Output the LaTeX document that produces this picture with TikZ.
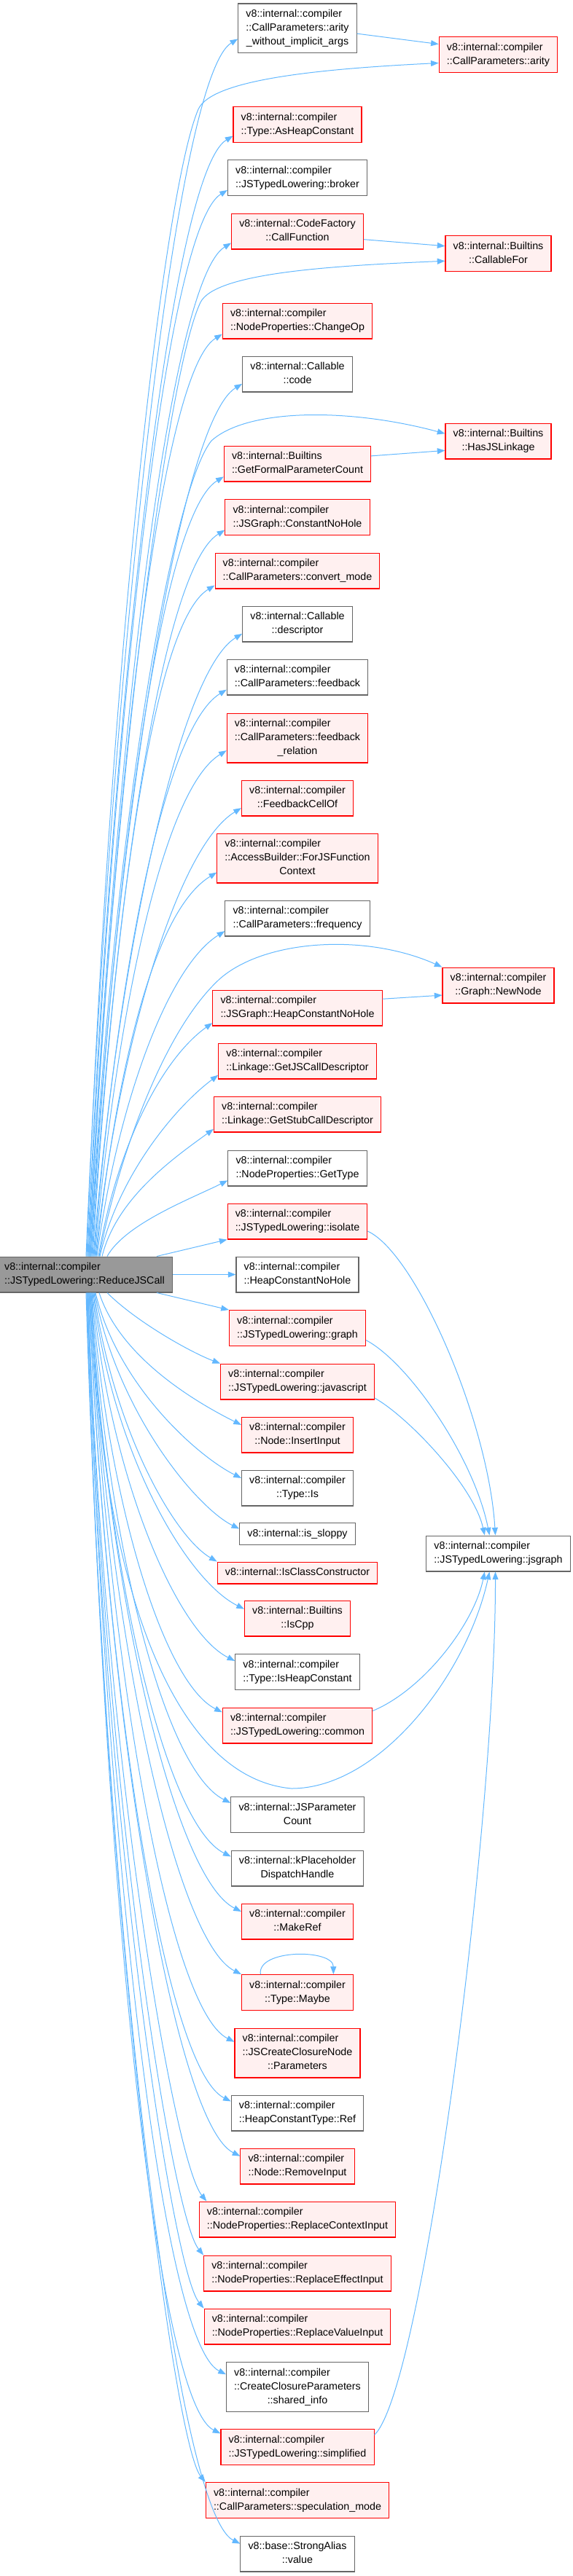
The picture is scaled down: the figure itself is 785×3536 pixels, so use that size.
\documentclass[tikz,border=0pt]{standalone}
\usepackage{fontspec}
\setmainfont{Liberation Sans}
\usetikzlibrary{arrows.meta}
\definecolor{edgeblue}{HTML}{63B8FF}
\definecolor{boxred}{HTML}{FF0000}
\definecolor{boxpink}{HTML}{FFF0F0}
\definecolor{boxgrey}{HTML}{666666}
\definecolor{maingrey}{HTML}{999999}
\newcommand{\done}[1]{\begin{tabular}{@{}c@{}}#1\end{tabular}}
\newcommand{\dtwo}[2]{\begin{tabular}{@{}l@{}}#1\\\multicolumn{1}{@{}c@{}}{#2}\end{tabular}}
\newcommand{\dthree}[3]{\begin{tabular}{@{}l@{}}#1\\#2\\\multicolumn{1}{@{}c@{}}{#3}\end{tabular}}
\tikzset{
  fn/.style={draw=boxgrey,fill=white,line width=0.8pt,inner xsep=8pt,inner ysep=4.1pt,
    font=\fontsize{10.7pt}{14.25pt}\selectfont},
  fnred/.style={fn,draw=boxred,fill=boxpink},
  fnmain/.style={fn,fill=maingrey},
  call/.style={draw=edgeblue,line width=0.75pt,-{Triangle[length=8pt,width=6pt]}}
}
\begin{document}
\begin{tikzpicture}[x=0.75pt,y=-0.75pt]
\useasboundingbox (0,0) rectangle (785,3536);
\node[fnmain] (reduce) at (116,1749.5) {\dtwo{v8::internal::compiler}{::JSTypedLowering::ReduceJSCall}};
\node[fn] (arityWIA) at (408,39) {\dthree{v8::internal::compiler}{::CallParameters::arity}{\_without\_implicit\_args}};
\node[fnred] (arity) at (683.5,75) {\dtwo{v8::internal::compiler}{::CallParameters::arity}};
\node[fnred] (asHeapConst) at (408,171) {\dtwo{v8::internal::compiler}{::Type::AsHeapConstant}};
\node[fn] (broker) at (408,244) {\dtwo{v8::internal::compiler}{::JSTypedLowering::broker}};
\node[fnred] (callFunction) at (408,317.5) {\dtwo{v8::internal::CodeFactory}{::CallFunction}};
\node[fnred] (callableFor) at (683.5,348) {\dtwo{v8::internal::Builtins}{::CallableFor}};
\node[fnred] (changeOp) at (408,440.5) {\dtwo{v8::internal::compiler}{::NodeProperties::ChangeOp}};
\node[fn] (code) at (408,513.5) {\dtwo{v8::internal::Callable}{::code}};
\node[fnred] (hasJSLinkage) at (683.5,605.5) {\dtwo{v8::internal::Builtins}{::HasJSLinkage}};
\node[fnred] (getFormal) at (408,636.5) {\dtwo{v8::internal::Builtins}{::GetFormalParameterCount}};
\node[fnred] (constNoHole) at (408,710) {\dtwo{v8::internal::compiler}{::JSGraph::ConstantNoHole}};
\node[fnred] (convertMode) at (408,783.5) {\dtwo{v8::internal::compiler}{::CallParameters::convert\_mode}};
\node[fn] (descriptor) at (408,856.5) {\dtwo{v8::internal::Callable}{::descriptor}};
\node[fn] (feedback) at (408,929.5) {\dtwo{v8::internal::compiler}{::CallParameters::feedback}};
\node[fnred] (feedbackRel) at (408,1013) {\dthree{v8::internal::compiler}{::CallParameters::feedback}{\_relation}};
\node[fnred] (feedbackCell) at (408,1095.5) {\dtwo{v8::internal::compiler}{::FeedbackCellOf}};
\node[fnred] (forJSFunc) at (408,1178) {\dthree{v8::internal::compiler}{::AccessBuilder::ForJSFunction}{Context}};
\node[fn] (frequency) at (408,1260.5) {\dtwo{v8::internal::compiler}{::CallParameters::frequency}};
\node[fnred] (newNode) at (683.5,1352.5) {\dtwo{v8::internal::compiler}{::Graph::NewNode}};
\node[fnred] (heapConstNoHole) at (408,1383.5) {\dtwo{v8::internal::compiler}{::JSGraph::HeapConstantNoHole}};
\node[fnred] (getJSCallDesc) at (408,1456.5) {\dtwo{v8::internal::compiler}{::Linkage::GetJSCallDescriptor}};
\node[fnred] (getStubCallDesc) at (408,1529.5) {\dtwo{v8::internal::compiler}{::Linkage::GetStubCallDescriptor}};
\node[fn] (getType) at (408,1603.5) {\dtwo{v8::internal::compiler}{::NodeProperties::GetType}};
\node[fnred] (isolate) at (408,1676.5) {\dtwo{v8::internal::compiler}{::JSTypedLowering::isolate}};
\node[fn] (hcNoHole) at (408,1749.5) {\dtwo{v8::internal::compiler}{::HeapConstantNoHole}};
\node[fnred] (graph) at (408,1823) {\dtwo{v8::internal::compiler}{::JSTypedLowering::graph}};
\node[fnred] (javascript) at (408,1896.5) {\dtwo{v8::internal::compiler}{::JSTypedLowering::javascript}};
\node[fnred] (insertInput) at (408,1969.5) {\dtwo{v8::internal::compiler}{::Node::InsertInput}};
\node[fn] (typeIs) at (408,2042.5) {\dtwo{v8::internal::compiler}{::Type::Is}};
\node[fn] (isSloppy) at (408,2105.5) {\done{v8::internal::is\_sloppy}};
\node[fn] (jsgraph) at (683.5,2132.5) {\dtwo{v8::internal::compiler}{::JSTypedLowering::jsgraph}};
\node[fnred] (isClassCtor) at (408,2159) {\done{v8::internal::IsClassConstructor}};
\node[fnred] (isCpp) at (408,2221.5) {\dtwo{v8::internal::Builtins}{::IsCpp}};
\node[fn] (isHeapConst) at (408,2295) {\dtwo{v8::internal::compiler}{::Type::IsHeapConstant}};
\node[fnred] (common) at (408,2368.5) {\dtwo{v8::internal::compiler}{::JSTypedLowering::common}};
\node[fn] (jsParamCount) at (408,2491) {\dtwo{v8::internal::JSParameter}{Count}};
\node[fn] (kPlaceholder) at (408,2564.5) {\dtwo{v8::internal::kPlaceholder}{DispatchHandle}};
\node[fnred] (makeRef) at (408,2637.5) {\dtwo{v8::internal::compiler}{::MakeRef}};
\node[fnred] (maybe) at (408,2735) {\dtwo{v8::internal::compiler}{::Type::Maybe}};
\node[fnred] (closureParams) at (408,2818) {\dthree{v8::internal::compiler}{::JSCreateClosureNode}{::Parameters}};
\node[fn] (hctRef) at (408,2900.5) {\dtwo{v8::internal::compiler}{::HeapConstantType::Ref}};
\node[fnred] (removeInput) at (408,2973.5) {\dtwo{v8::internal::compiler}{::Node::RemoveInput}};
\node[fnred] (replCtx) at (408,3046.5) {\dtwo{v8::internal::compiler}{::NodeProperties::ReplaceContextInput}};
\node[fnred] (replEffect) at (408,3120.5) {\dtwo{v8::internal::compiler}{::NodeProperties::ReplaceEffectInput}};
\node[fnred] (replValue) at (408,3193.5) {\dtwo{v8::internal::compiler}{::NodeProperties::ReplaceValueInput}};
\node[fn] (sharedInfo) at (408,3276.5) {\dthree{v8::internal::compiler}{::CreateClosureParameters}{::shared\_info}};
\node[fnred] (simplified) at (408,3359) {\dtwo{v8::internal::compiler}{::JSTypedLowering::simplified}};
\node[fnred] (specMode) at (408,3432) {\dtwo{v8::internal::compiler}{::CallParameters::speculation\_mode}};
\node[fn] (strongValue) at (408,3505.5) {\dtwo{v8::base::StrongAlias}{::value}};
\draw[call] ([shift={(2,0)}]reduce.north) .. controls +(32,-752) and +(-90,55) .. (arityWIA.190);
\draw[call] ([shift={(3,0)}]reduce.north) .. controls (150,900) and (225,260) .. (272,150) .. controls (290,110) and (430,95) .. (arity.188);
\draw[call] ([shift={(4,0)}]reduce.north) .. controls +(30,-693) and +(-90,55) .. (asHeapConst.190);
\draw[call] ([shift={(5,0)}]reduce.north) .. controls +(29,-660) and +(-90,55) .. (broker.190);
\draw[call] ([shift={(6,0)}]reduce.north) .. controls +(30,-627) and +(-90,55) .. (callFunction.190);
\draw[call] ([shift={(6,0)}]reduce.north) .. controls (150,1150) and (225,520) .. (275,415) .. controls (295,375) and (450,365) .. (callableFor.188);
\draw[call] ([shift={(7,0)}]reduce.north) .. controls +(28,-572) and +(-90,55) .. (changeOp.190);
\draw[call] ([shift={(8,0)}]reduce.north) .. controls +(31,-540) and +(-90,55) .. (code.190);
\draw[call] ([shift={(8,0)}]reduce.north) .. controls (150,1200) and (230,680) .. (290,605) .. controls (340,560) and (480,560) .. (hasJSLinkage.172);
\draw[call] ([shift={(9,0)}]reduce.north) .. controls +(28,-484) and +(-90,55) .. (getFormal.190);
\draw[call] ([shift={(10,0)}]reduce.north) .. controls +(28,-450) and +(-90,55) .. (constNoHole.190);
\draw[call] ([shift={(11,0)}]reduce.north) .. controls +(26,-418) and +(-90,55) .. (convertMode.190);
\draw[call] ([shift={(12,0)}]reduce.north) .. controls +(31,-385) and +(-90,55) .. (descriptor.190);
\draw[call] ([shift={(13,0)}]reduce.north) .. controls +(28,-352) and +(-90,55) .. (feedback.190);
\draw[call] ([shift={(14,0)}]reduce.north) .. controls +(28,-314) and +(-90,55) .. (feedbackRel.190);
\draw[call] ([shift={(15,0)}]reduce.north) .. controls +(30,-278) and +(-90,55) .. (feedbackCell.190);
\draw[call] ([shift={(16,0)}]reduce.north) .. controls +(26,-240) and +(-90,55) .. (forJSFunc.190);
\draw[call] ([shift={(17,0)}]reduce.north) .. controls +(27,-203) and +(-80,50) .. (frequency.190);
\draw[call] ([shift={(20,0)}]reduce.north) .. controls (160,1600) and (220,1420) .. (300,1345) .. controls (360,1290) and (500,1280) .. (newNode.north west);
\draw[call] ([shift={(19,0)}]reduce.north) .. controls +(25,-150) and +(-70,50) .. (heapConstNoHole.190);
\draw[call] ([shift={(21,0)}]reduce.north) .. controls +(25,-110) and +(-60,45) .. (getJSCallDesc.190);
\draw[call] ([shift={(24,0)}]reduce.north) .. controls +(20,-80) and +(-55,40) .. (getStubCallDesc.190);
\draw[call] ([shift={(31,0)}]reduce.north) .. controls +(25,-45) and +(-50,25) .. (getType.190);
\draw[call] ([shift={(99,0)}]reduce.north) -- (isolate.south west);
\draw[call] (reduce.east) -- (hcNoHole.west);
\draw[call] ([shift={(99,0)}]reduce.south) -- (graph.north west);
\draw[call] ([shift={(31,0)}]reduce.south) .. controls +(40,40) and +(-40,-15) .. (javascript.north west);
\draw[call] ([shift={(20,0)}]reduce.south) .. controls +(29,90) and +(-60,-30) .. (insertInput.170);
\draw[call] ([shift={(15,0)}]reduce.south) .. controls +(30,127) and +(-60,-30) .. (typeIs.170);
\draw[call] ([shift={(14,0)}]reduce.south) .. controls +(30,162) and +(-60,-30) .. (isSloppy.175);
\draw[call] ([shift={(13,0)}]reduce.south) .. controls +(26,186) and +(-60,-35) .. (isClassCtor.north west);
\draw[call] ([shift={(12,0)}]reduce.south) .. controls +(25,218) and +(-80,-40) .. (isCpp.170);
\draw[call] ([shift={(11,0)}]reduce.south) .. controls +(24,255) and +(-80,-40) .. (isHeapConst.170);
\draw[call] ([shift={(10,0)}]reduce.south) .. controls +(22,289) and +(-80,-40) .. (common.170);
\draw[call] ([shift={(10,0)}]reduce.south) .. controls (135,2150) and (230,2440) .. (400,2455) .. controls (520,2455) and (640,2300) .. ([xshift=-9pt]jsgraph.south);
\draw[call] ([shift={(9,0)}]reduce.south) .. controls +(23,351) and +(-90,-45) .. (jsParamCount.170);
\draw[call] ([shift={(8,0)}]reduce.south) .. controls +(23,388) and +(-90,-45) .. (kPlaceholder.170);
\draw[call] ([shift={(8,0)}]reduce.south) .. controls +(25,426) and +(-90,-45) .. (makeRef.170);
\draw[call] ([shift={(7,0)}]reduce.south) .. controls +(25,469) and +(-90,-45) .. (maybe.north west);
\draw[call] ([shift={(7,0)}]reduce.south) .. controls +(25,513) and +(-90,-45) .. (closureParams.170);
\draw[call] ([shift={(6,0)}]reduce.south) .. controls +(24,558) and +(-90,-45) .. (hctRef.170);
\draw[call] ([shift={(6,0)}]reduce.south) .. controls +(25,594) and +(-90,-45) .. (removeInput.170);
\draw[call] ([shift={(5,0)}]reduce.south) .. controls +(19,623) and +(-45,-55) .. ([xshift=8pt]replCtx.north west);
\draw[call] ([shift={(5,0)}]reduce.south) .. controls +(19,660) and +(-45,-55) .. (replEffect.north west);
\draw[call] ([shift={(4,0)}]reduce.south) .. controls +(19,696) and +(-45,-55) .. (replValue.north west);
\draw[call] ([shift={(4,0)}]reduce.south) .. controls +(23,740) and +(-90,-45) .. (sharedInfo.170);
\draw[call] ([shift={(3,0)}]reduce.south) .. controls +(22,783) and +(-90,-45) .. (simplified.170);
\draw[call] ([shift={(3,0)}]reduce.south) .. controls +(20,816) and +(-45,-55) .. (specMode.north west);
\draw[call] ([shift={(2,0)}]reduce.south) .. controls +(26,861) and +(-90,-45) .. (strongValue.170);
\draw[call] (arityWIA.355) -- (arity.170);
\draw[call] (callFunction.353) -- (callableFor.172);
\draw[call] (getFormal.6) -- (hasJSLinkage.190);
\draw[call] (heapConstNoHole.6) -- (newNode.190);
\draw[call] (isolate.352) .. controls (570,1720) and (670,1950) .. ([xshift=-3pt]jsgraph.north);
\draw[call] (graph.350) .. controls (560,1870) and (650,2000) .. ([xshift=-9pt]jsgraph.north);
\draw[call] (javascript.348) .. controls (560,1945) and (650,2040) .. ([xshift=-14pt]jsgraph.north);
\draw[call] (common.11) .. controls (580,2320) and (650,2230) .. ([xshift=-14pt]jsgraph.south);
\draw[call] (simplified.9) .. controls (580,3280) and (680,2500) .. ([xshift=-3pt]jsgraph.south);
\draw[call] ([xshift=-38pt]maybe.north) .. controls +(-5,-35) and +(0,-35) .. ([xshift=37pt]maybe.north);
\end{tikzpicture}
\end{document}
